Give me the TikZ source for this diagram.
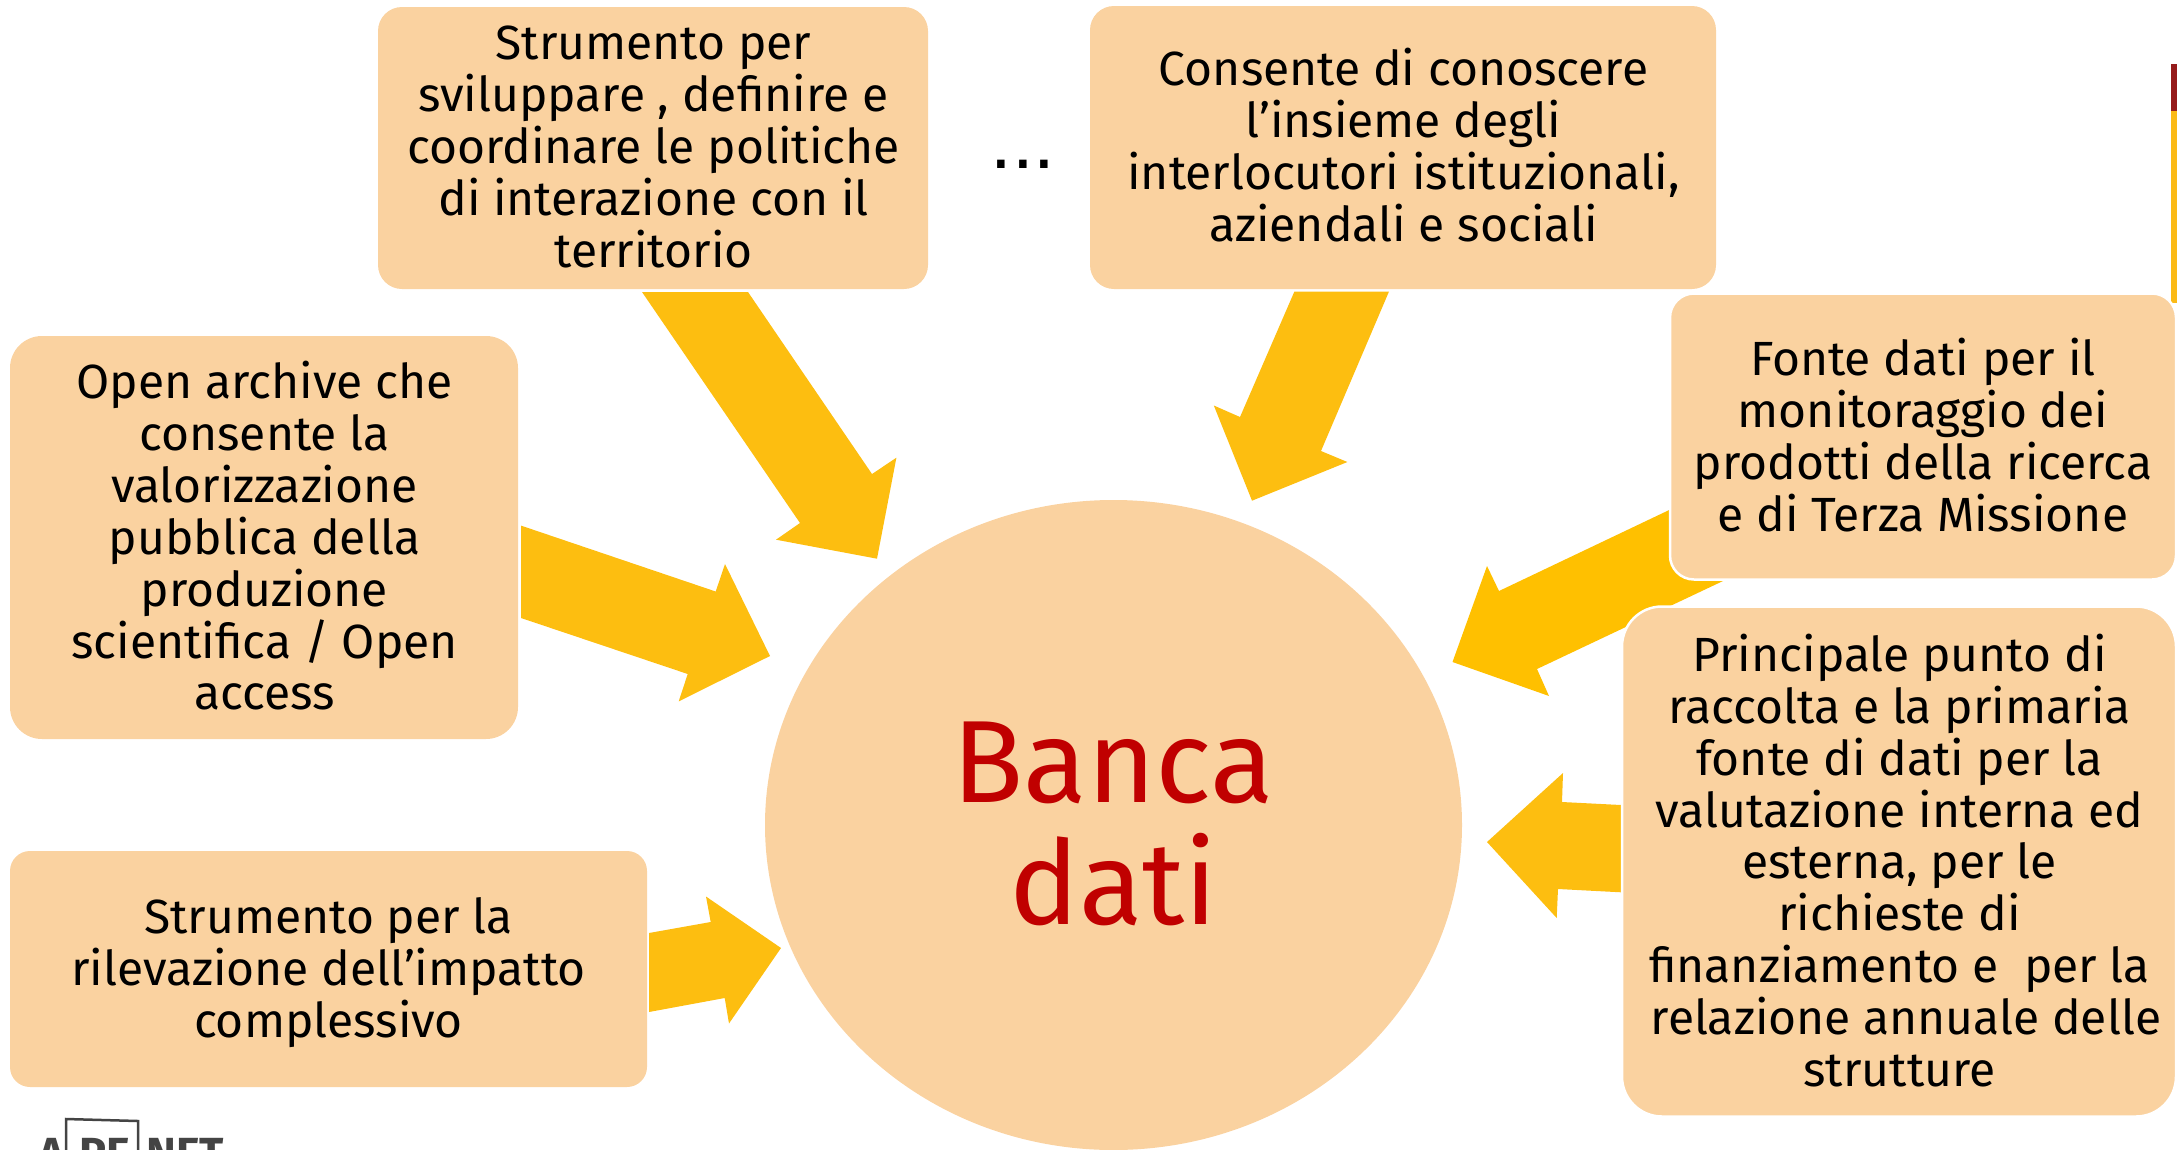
\documentclass[tikz,border=0pt]{standalone}
\usepackage{fontspec}
\setmainfont{Fira Sans}
\newfontfamily\dotsfont{Liberation Sans}
\usetikzlibrary{shapes.geometric}
\definecolor{boxfill}{HTML}{FAD2A0}
\definecolor{arrowa}{HTML}{FDBE10}
\definecolor{arrowb}{HTML}{FFC000}
\definecolor{title}{HTML}{C00000}
\definecolor{stripered}{HTML}{951B1B}
\definecolor{stripeyel}{HTML}{FBBA16}
\definecolor{logo}{HTML}{444444}
\tikzset{
  bodytext/.style={inner sep=0pt,align=center,font=\fontsize{48}{51.85}\selectfont,text=black},
  infobox/.style={fill=boxfill,rounded corners=#1,inner sep=0pt},
  infobox/.default=24pt,
  blockarrow/.style={fill=arrowa,draw=none},
  hub/.style={ellipse,fill=boxfill,inner sep=0pt,minimum width=697pt,minimum height=650pt},
  hubtext/.style={inner sep=0pt,align=center,text=title,font=\fontsize{117}{122}\selectfont},
  logotext/.style={anchor=base west,inner sep=0pt,text=logo,font=\fontsize{45}{45}\selectfont\bfseries},
}
\begin{document}
\begin{tikzpicture}[x=1pt,y=-1pt]
\clip (0,0) rectangle (2177,1149);
\useasboundingbox (0,0) rectangle (2177,1149);
% stripe
\fill[stripered] (2171,64) rectangle (2177,111);
\fill[stripeyel] (2171,111) rectangle (2177,303);
% hub
\node[hub] (hub) at (1113.5,825) {};
\node[hubtext] (hubtext) at (1113.5,824) {Banca\\dati};
% arrows
\fill[blockarrow] (642,292) -- (748,292) -- (872,474) -- (896.4,457.7) -- (877,558.7) -- (776,539.7) -- (800,523) -- cycle;
\fill[blockarrow] (1294.4,291.5) -- (1389,291.5) -- (1321,451) -- (1347.4,462) -- (1252,500.7) -- (1213.8,405.5) -- (1240,417) -- cycle;
\fill[blockarrow] (521,525.6) -- (521,618) -- (687.7,674) -- (678.7,701.4) -- (770,656) -- (725,564) -- (715.7,591.5) -- cycle;
\fill[blockarrow] (649,933) -- (649,1012) -- (724.7,998) -- (729,1023.5) -- (781,948) -- (706,896.5) -- (710.7,922) -- cycle;
\fill[blockarrow] (1621,805) -- (1621,892.3) -- (1558,889) -- (1556.7,918) -- (1487,842) -- (1563,773) -- (1562,802) -- cycle;
\fill[arrowb] (1686,502) -- (1499,591) -- (1487,566) -- (1452.5,662) -- (1549,696) -- (1537,669) -- (1723,581) -- cycle;
% boxes
\node[infobox,minimum width=550pt,minimum height=282pt] (b1) at (653,148) {};
\node[bodytext] (b1text) at (653.5,147) {Strumento per\\sviluppare , definire e\\coordinare le politiche\\di interazione con il\\territorio};
\node[infobox,minimum width=626pt,minimum height=283pt] (b2) at (1403,147.5) {};
\node[bodytext] (b2text) at (1403.5,145) {Consente di conoscere\\l’insieme degli\\interlocutori istituzionali,\\aziendali e sociali};
\node[infobox,minimum width=506pt,minimum height=286pt,draw=white,line width=2.5pt] (b3) at (1923,436.5) {};
\node[bodytext] (b3text) at (1923,435) {Fonte dati per il\\monitoraggio dei\\prodotti della ricerca\\e di Terza Missione};
\node[infobox=40pt,minimum width=554pt,minimum height=510pt,draw=white,line width=2.5pt] (b4) at (1899,861.5) {};
\node[bodytext] (b4text) at (1899.5,860.5) {Principale punto di\\raccolta e la primaria\\fonte di dati per la\\valutazione interna ed\\esterna, per le\\richieste di\\finanziamento e\ \ per la\\\hspace*{13pt}relazione annuale delle\\strutture};
\node[infobox=32pt,minimum width=508pt,minimum height=403pt] (b5) at (264,537.5) {};
\node[bodytext] (b5text) at (264.5,536) {Open archive che\\consente la\\valorizzazione\\pubblica della\\produzione\\scientifica / Open\\access};
\node[infobox=20pt,minimum width=637pt,minimum height=236pt] (b6) at (328.5,969) {};
\node[bodytext] (b6text) at (328.5,972.5) {Strumento per la\\rilevazione dell’impatto\\complessivo};
\node[anchor=base,inner sep=0pt,font=\dotsfont\fontsize{78}{78}\selectfont] (dots) at (1023,168) {...};
% logo
\node[logotext] (logoA) at (38,1169) {A};
\node[logotext] (logoP) at (79,1169) {PE};
\node[logotext] (logoN) at (146,1169) {NET};
\draw[logo,line width=2.5pt] (66,1160) -- (66,1119) -- (138,1121) -- (138,1160);
\end{tikzpicture}
\end{document}
